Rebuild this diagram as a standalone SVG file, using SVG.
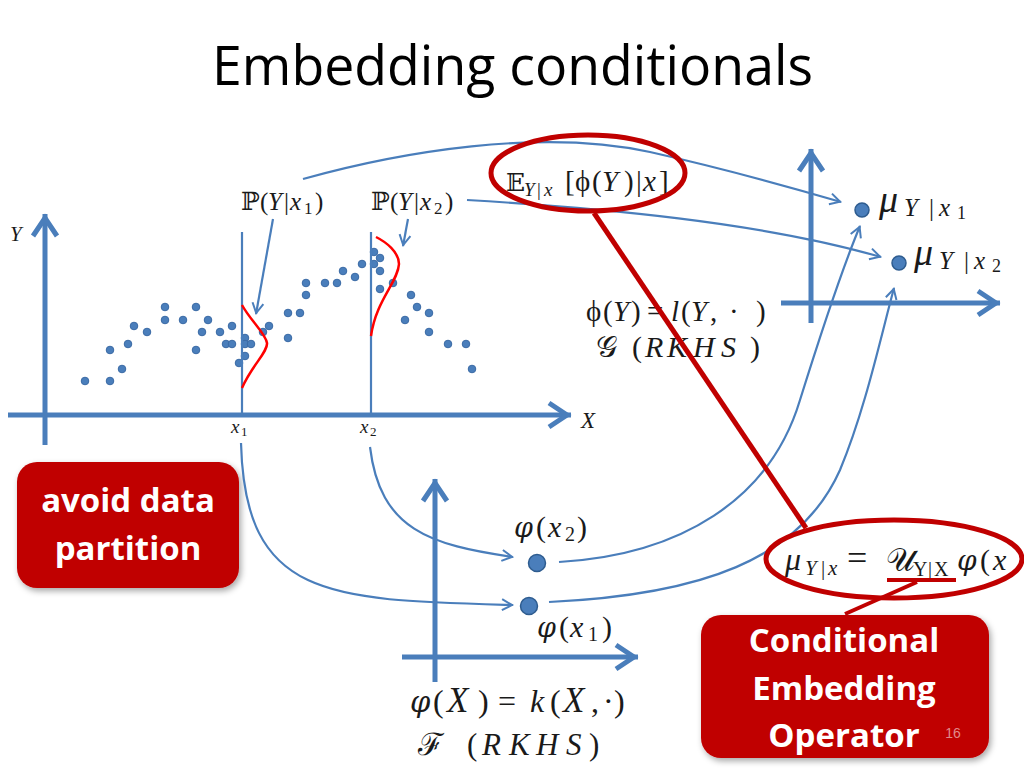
<svg xmlns="http://www.w3.org/2000/svg" width="1024" height="768" viewBox="0 0 1024 768">
<style>
.ax{stroke:#4A7EBB;stroke-width:5;fill:none;stroke-linejoin:miter}
.thin{stroke:#4A7EBB;stroke-width:2.2;fill:none}
.gauss{stroke:#FF0000;stroke-width:2.5;fill:none}
.red{stroke:#C00000;fill:none}
.dot{fill:#4A7EBB;stroke:#3A6AA5;stroke-width:1}
.bdot{fill:#4A7EBB;stroke:#2E5C8F;stroke-width:1.5}
.m{font-family:"Liberation Serif","DejaVu Serif",serif;fill:#1a1a1a}
.i{font-style:italic}
.vp{font-family:"DejaVu Serif","Liberation Serif",serif;font-weight:normal}
.box{fill:#C00000}
.bt{font-family:"Open Sans","Liberation Sans",sans-serif;font-weight:bold;fill:#FFFFFF;font-size:33px;text-anchor:middle}
</style>
<defs>
<marker id="axh" viewBox="-26 -15 30 30" refX="0" refY="0" markerWidth="30" markerHeight="30" markerUnits="userSpaceOnUse" orient="auto">
<path d="M-22,-12 L-4,0 L-22,12" fill="none" stroke="#4A7EBB" stroke-width="5"/>
</marker>
<marker id="th" viewBox="-13 -7 15 14" refX="0" refY="0" markerWidth="15" markerHeight="14" markerUnits="userSpaceOnUse" orient="auto">
<path d="M-11,-5.5 L-1,0 L-11,5.5" fill="none" stroke="#4A7EBB" stroke-width="2"/>
</marker>
<filter id="sh" x="-10%" y="-10%" width="125%" height="130%">
<feDropShadow dx="2" dy="3" stdDeviation="3" flood-color="#000" flood-opacity="0.35"/>
</filter>
</defs>
<rect width="1024" height="768" fill="#FFFFFF"/>

<g id="title">
<text x="212" y="85" font-family="'Open Sans','Liberation Sans',sans-serif" font-size="54" fill="#000" textLength="601" lengthAdjust="spacingAndGlyphs">Embedding conditionals</text>
</g>

<g id="data-plot">
<path class="ax" d="M45,445 L45,214" marker-end="url(#axh)"/>
<path class="ax" d="M8,415 L571,415" marker-end="url(#axh)"/>
<g id="scatter">
<circle class="dot" cx="85" cy="381" r="3.8"/><circle class="dot" cx="110" cy="381" r="3.8"/>
<circle class="dot" cx="110" cy="350" r="3.8"/><circle class="dot" cx="122" cy="369" r="3.8"/>
<circle class="dot" cx="128" cy="344" r="3.8"/><circle class="dot" cx="134" cy="326" r="3.8"/>
<circle class="dot" cx="147" cy="332" r="3.8"/><circle class="dot" cx="165" cy="307" r="3.8"/>
<circle class="dot" cx="165" cy="320" r="3.8"/><circle class="dot" cx="183" cy="320" r="3.8"/>
<circle class="dot" cx="196" cy="307" r="3.8"/><circle class="dot" cx="196" cy="350" r="3.8"/>
<circle class="dot" cx="202" cy="332" r="3.8"/><circle class="dot" cx="208" cy="320" r="3.8"/>
<circle class="dot" cx="220" cy="332" r="3.8"/><circle class="dot" cx="232" cy="326" r="3.8"/>
<circle class="dot" cx="226" cy="344" r="3.8"/><circle class="dot" cx="232" cy="344" r="3.8"/>
<circle class="dot" cx="245" cy="338" r="3.8"/><circle class="dot" cx="245" cy="344" r="3.8"/>
<circle class="dot" cx="251" cy="344" r="3.8"/><circle class="dot" cx="245" cy="356" r="3.8"/>
<circle class="dot" cx="239" cy="363" r="3.8"/><circle class="dot" cx="263" cy="332" r="3.8"/>
<circle class="dot" cx="269" cy="326" r="3.8"/><circle class="dot" cx="288" cy="313" r="3.8"/>
<circle class="dot" cx="300" cy="313" r="3.8"/><circle class="dot" cx="288" cy="338" r="3.8"/>
<circle class="dot" cx="306" cy="283" r="3.8"/><circle class="dot" cx="306" cy="295" r="3.8"/>
<circle class="dot" cx="325" cy="283" r="3.8"/><circle class="dot" cx="337" cy="283" r="3.8"/>
<circle class="dot" cx="343" cy="271" r="3.8"/><circle class="dot" cx="355" cy="277" r="3.8"/>
<circle class="dot" cx="362" cy="264" r="3.8"/><circle class="dot" cx="374" cy="252" r="3.8"/>
<circle class="dot" cx="380" cy="258" r="3.8"/><circle class="dot" cx="374" cy="264" r="3.8"/>
<circle class="dot" cx="380" cy="271" r="3.8"/><circle class="dot" cx="393" cy="283" r="3.8"/>
<circle class="dot" cx="380" cy="289" r="3.8"/><circle class="dot" cx="411" cy="295" r="3.8"/>
<circle class="dot" cx="417" cy="307" r="3.8"/><circle class="dot" cx="429" cy="313" r="3.8"/>
<circle class="dot" cx="405" cy="320" r="3.8"/><circle class="dot" cx="429" cy="332" r="3.8"/>
<circle class="dot" cx="448" cy="344" r="3.8"/><circle class="dot" cx="466" cy="344" r="3.8"/>
<circle class="dot" cx="472" cy="369" r="3.8"/>
</g>
<line class="thin" x1="242" y1="232" x2="242" y2="415"/>
<line class="thin" x1="371" y1="232" x2="371" y2="415"/>
<path class="gauss" d="M242,388 C252,365 268,352 267,343 C266,334 250,320 242,305"/>
<path class="gauss" d="M371,336 C376,300 398,282 399,264 C399,252 386,242 376,237"/>
<text class="m i" x="10" y="241" font-size="21">Y</text>
<text class="m i" x="581" y="428" font-size="23">X</text>
<text class="m" font-size="19"><tspan class="i" x="231" y="433">x</tspan><tspan font-size="13" x="241" y="436">1</tspan></text>
<text class="m" font-size="19"><tspan class="i" x="360" y="433">x</tspan><tspan font-size="13" x="370" y="436">2</tspan></text>
<text class="m" font-size="25"><tspan x="241" y="210">ℙ</tspan><tspan x="260" y="210">(</tspan><tspan class="i" x="268" y="210">Y</tspan><tspan x="284" y="210">|</tspan><tspan class="i" x="290" y="210">x</tspan><tspan font-size="17" x="304" y="214">1</tspan><tspan x="315" y="210">)</tspan></text>
<text class="m" font-size="25"><tspan x="371" y="210">ℙ</tspan><tspan x="390" y="210">(</tspan><tspan class="i" x="398" y="210">Y</tspan><tspan x="414" y="210">|</tspan><tspan class="i" x="420" y="210">x</tspan><tspan font-size="17" x="434" y="214">2</tspan><tspan x="445" y="210">)</tspan></text>
</g>

<g id="box-avoid">
<rect class="box" x="17" y="462" width="222" height="126" rx="20" filter="url(#sh)"/>
<text class="bt" x="128" y="512">avoid data</text>
<text class="bt" x="128" y="560">partition</text>
</g>

<g id="space-G">
<path class="ax" d="M811,323 L811,149" marker-end="url(#axh)"/>
<path class="ax" d="M781,303 L1000,303" marker-end="url(#axh)"/>
<circle class="bdot" cx="862" cy="210" r="7"/>
<circle class="bdot" cx="899" cy="263" r="7"/>
<text class="m"><tspan class="i" font-size="38" x="879" y="212">μ</tspan><tspan class="i" font-size="25" x="904" y="216">Y</tspan><tspan font-size="25" x="929" y="216">|</tspan><tspan class="i" font-size="25" x="939" y="216">x</tspan><tspan font-size="18" x="957" y="219">1</tspan></text>
<text class="m"><tspan class="i" font-size="38" x="914" y="265">μ</tspan><tspan class="i" font-size="25" x="939" y="269">Y</tspan><tspan font-size="25" x="964" y="269">|</tspan><tspan class="i" font-size="25" x="974" y="269">x</tspan><tspan font-size="18" x="992" y="272">2</tspan></text>
<text class="m" font-size="29"><tspan x="586" y="321">ϕ</tspan><tspan x="603" y="321">(</tspan><tspan class="i" x="613" y="321">Y</tspan><tspan x="631" y="321">)</tspan><tspan x="647" y="321">=</tspan><tspan class="i" x="671" y="321">l</tspan><tspan x="681" y="321">(</tspan><tspan class="i" x="691" y="321">Y</tspan><tspan x="710" y="321">,</tspan><tspan x="729" y="321">·</tspan><tspan x="756" y="321">)</tspan></text>
<text class="m" font-size="30"><tspan x="596" y="357">𝒢</tspan><tspan x="632" y="357">(</tspan><tspan class="i" x="645" y="357">R</tspan><tspan class="i" x="667" y="357">K</tspan><tspan class="i" x="693" y="357">H</tspan><tspan class="i" x="721" y="357">S</tspan><tspan x="750" y="357">)</tspan></text>
</g>

<g id="space-F">
<path class="ax" d="M435,682 L435,479" marker-end="url(#axh)"/>
<path class="ax" d="M402,657 L638,657" marker-end="url(#axh)"/>
<circle class="bdot" cx="537" cy="563" r="8.5"/>
<circle class="bdot" cx="529" cy="606" r="8.5"/>
<text class="m" font-size="30"><tspan class="vp i" font-size="27" x="514" y="537">φ</tspan><tspan x="536" y="537">(</tspan><tspan class="i" x="548" y="537">x</tspan><tspan font-size="20" x="565" y="541">2</tspan><tspan x="577" y="537">)</tspan></text>
<text class="m" font-size="30"><tspan class="vp i" font-size="27" x="537" y="637">φ</tspan><tspan x="559" y="637">(</tspan><tspan class="i" x="570" y="637">x</tspan><tspan font-size="20" x="588" y="641">1</tspan><tspan x="602" y="637">)</tspan></text>
<text class="m" font-size="32"><tspan class="vp i" font-size="29" x="410" y="712">φ</tspan><tspan x="433" y="712">(</tspan><tspan class="i" x="447" y="712" font-size="35">X</tspan><tspan x="478" y="712">)</tspan><tspan x="498" y="712">=</tspan><tspan class="i" x="530" y="712">k</tspan><tspan x="550" y="712">(</tspan><tspan class="i" x="563" y="712" font-size="35">X</tspan><tspan x="591" y="712">,</tspan><tspan x="603" y="712">·</tspan><tspan x="614" y="712">)</tspan></text>
<text class="m" font-size="31"><tspan x="418" y="755">ℱ</tspan><tspan x="467" y="755">(</tspan><tspan class="i" x="482" y="755">R</tspan><tspan class="i" x="509" y="755">K</tspan><tspan class="i" x="536" y="755">H</tspan><tspan class="i" x="566" y="755">S</tspan><tspan x="589" y="755">)</tspan></text>
</g>

<g id="connectors">
<path class="thin" d="M303,179 C400,152 540,128 650,152 C730,170 800,190 841,202" marker-end="url(#th)"/>
<path class="thin" d="M467,200 C600,208 760,222 881,257" marker-end="url(#th)"/>
<path class="thin" d="M273,219 L256,314" marker-end="url(#th)"/>
<path class="thin" d="M408,219 L403,246" marker-end="url(#th)"/>
<path class="thin" d="M241,443 C245,600 330,600 513,605" marker-end="url(#th)"/>
<path class="thin" d="M370,447 C380,530 430,545 513,557" marker-end="url(#th)"/>
<path class="thin" d="M559,562 C680,555 770,500 800,400 C825,320 845,262 860,226" marker-end="url(#th)"/>
<path class="thin" d="M549,602 C700,595 800,560 840,470 C865,410 880,340 894,288" marker-end="url(#th)"/>
</g>

<g id="expectation-label">
<text class="m" font-size="29"><tspan font-size="25" x="506" y="191">𝔼</tspan><tspan class="i" font-size="19" x="524" y="196">Y</tspan><tspan font-size="19" x="537" y="196">|</tspan><tspan class="i" font-size="19" x="544" y="196">x</tspan><tspan x="565" y="191">[</tspan><tspan x="575" y="191">ϕ</tspan><tspan x="592" y="191">(</tspan><tspan class="i" x="602" y="191">Y</tspan><tspan x="624" y="191">)</tspan><tspan x="636" y="191">|</tspan><tspan class="i" x="643" y="191">x</tspan><tspan x="659" y="191">]</tspan></text>
<ellipse class="red" cx="588" cy="173" rx="97" ry="38" stroke-width="5"/>
</g>

<g id="operator-formula">
<text class="m" font-size="30"><tspan class="i" font-size="32" x="785" y="570">μ</tspan><tspan class="i" font-size="21" x="805" y="575">Y</tspan><tspan font-size="21" x="821" y="575">|</tspan><tspan class="i" font-size="21" x="828" y="575">x</tspan><tspan x="847" y="570" font-size="36">=</tspan><tspan font-size="32" x="886" y="571">𝒰</tspan><tspan font-size="20" x="913" y="576">Y</tspan><tspan font-size="20" x="928" y="576">|</tspan><tspan font-size="20" x="934" y="576">X</tspan><tspan class="vp i" font-size="28" x="957" y="570">φ</tspan><tspan x="980" y="570">(</tspan><tspan class="i" x="993" y="570">x</tspan></text>
<ellipse class="red" cx="894" cy="559" rx="128" ry="39" stroke-width="5"/>
<line class="red" x1="887" y1="580" x2="956" y2="580" stroke-width="4"/>
</g>

<g id="red-links">
<line class="red" x1="594" y1="213" x2="806" y2="528" stroke-width="5"/>
<line class="red" x1="917" y1="582" x2="845" y2="614" stroke-width="4"/>
</g>

<g id="box-operator">
<rect class="box" x="701" y="615" width="288" height="143" rx="20" filter="url(#sh)"/>
<text class="bt" x="844" y="652">Conditional</text>
<text class="bt" x="844" y="700">Embedding</text>
<text class="bt" x="844" y="747">Operator</text>
<text x="953" y="738" font-family="'Liberation Sans',sans-serif" font-size="14" fill="#E08A8A" text-anchor="middle">16</text>
</g>
</svg>
